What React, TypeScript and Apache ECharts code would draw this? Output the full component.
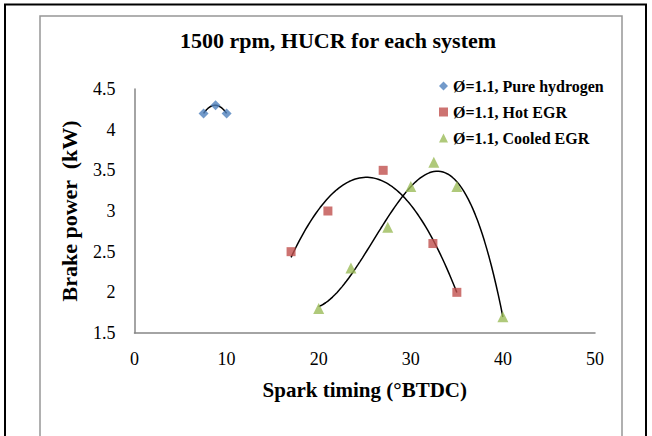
import React, { useEffect, useRef } from "react";
import * as echarts from "echarts";

// Spark timing (°BTDC) and brake power (kW) for each system
const pureX = [7.5, 8.8, 10];
const pureY = [4.2, 4.3, 4.2];
const hotX = [17, 21, 27, 32.4, 35];
const hotY = [2.5, 3.0, 3.5, 2.6, 2.0];
const cooledX = [20, 23.5, 27.5, 30, 32.5, 35, 40];
const cooledY = [1.8, 2.3, 2.8, 3.3, 3.6, 3.3, 1.7];

const seriesNames = ["Ø=1.1, Pure hydrogen", "Ø=1.1, Hot EGR", "Ø=1.1, Cooled EGR"];
const trendOrders = [2, 2, 3];

const FONT = "'Liberation Serif', 'Times New Roman', serif";

// Least-squares polynomial fit, returns coefficients c0..cn
function polyFit(xs: number[], ys: number[], order: number): number[] {
  const n = order + 1;
  const A: number[][] = [];
  for (let i = 0; i < n; i++) {
    const row: number[] = [];
    for (let j = 0; j < n; j++) {
      let s = 0;
      for (const x of xs) s += Math.pow(x, i + j);
      row.push(s);
    }
    let b = 0;
    xs.forEach((x, k) => (b += Math.pow(x, i) * ys[k]));
    row.push(b);
    A.push(row);
  }
  for (let c = 0; c < n; c++) {
    let p = c;
    for (let r = c + 1; r < n; r++) if (Math.abs(A[r][c]) > Math.abs(A[p][c])) p = r;
    [A[c], A[p]] = [A[p], A[c]];
    for (let r = 0; r < n; r++) {
      if (r === c) continue;
      const f = A[r][c] / A[c][c];
      for (let k = c; k <= n; k++) A[r][k] -= f * A[c][k];
    }
  }
  return A.map((row, i) => row[n] / row[i]);
}

// Polynomial trendline sampled across the data's x range
function trendLine(xs: number[], ys: number[], order: number): number[][] {
  const coef = polyFit(xs, ys, order);
  const lo = Math.min(...xs);
  const hi = Math.max(...xs);
  const pts: number[][] = [];
  const steps = 80;
  for (let i = 0; i <= steps; i++) {
    const x = lo + ((hi - lo) * i) / steps;
    let y = 0;
    coef.forEach((c, k) => (y += c * Math.pow(x, k)));
    pts.push([x, y]);
  }
  return pts;
}

const zip = (xs: number[], ys: number[]) => xs.map((x, i) => [x, ys[i]]);

export default function App() {
  const ref = useRef<HTMLDivElement>(null);

  useEffect(() => {
    if (!ref.current) return;
    const chart = echarts.init(ref.current, undefined, { renderer: "svg" });
    const sets = [
      { x: pureX, y: pureY, symbol: "diamond", size: 10, color: "#4f81bd" },
      { x: hotX, y: hotY, symbol: "rect", size: 9, color: "#c0504d" },
      { x: cooledX, y: cooledY, symbol: "triangle", size: 11, color: "#9bbb59" },
    ];
    const scatter = sets.map((s, i) => ({
      name: seriesNames[i],
      type: "scatter",
      symbol: s.symbol,
      symbolSize: s.size,
      itemStyle: { color: s.color },
      data: zip(s.x, s.y),
      z: 3,
    }));
    const trends = sets.map((s, i) => ({
      type: "line",
      data: trendLine(s.x, s.y, trendOrders[i]),
      showSymbol: false,
      symbol: "none",
      lineStyle: { color: "#000", width: 1.5 },
      silent: true,
      z: 2,
    }));

    chart.setOption({
      animation: false,
      textStyle: { fontFamily: FONT },
      title: {
        text: "1500 rpm, HUCR for each system",
        left: 333,
        top: 24,
        textAlign: "center",
        textStyle: { fontFamily: FONT, fontSize: 22, fontWeight: "bold", color: "#000" },
      },
      legend: {
        data: seriesNames,
        orient: "vertical",
        left: 434,
        top: 73,
        itemWidth: 9,
        itemHeight: 9,
        itemGap: 10,
        textStyle: { fontFamily: FONT, fontSize: 16, fontWeight: "bold", color: "#000" },
      },
      grid: { left: 134.5, top: 89, right: 57, bottom: 103 },
      xAxis: {
        type: "value",
        min: 0,
        max: 50,
        interval: 10,
        name: "Spark timing (°BTDC)",
        nameLocation: "middle",
        nameGap: 46,
        nameTextStyle: { fontFamily: FONT, fontSize: 21, fontWeight: "bold", color: "#000" },
        axisLine: { show: true, lineStyle: { color: "#868686", width: 1.5 } },
        axisTick: { show: false },
        splitLine: { show: false },
        axisLabel: { fontFamily: FONT, fontSize: 18, color: "#000", margin: 17 },
      },
      yAxis: {
        type: "value",
        min: 1.5,
        max: 4.5,
        interval: 0.5,
        name: "Brake power  (kW)",
        nameLocation: "middle",
        nameGap: 54,
        nameTextStyle: { fontFamily: FONT, fontSize: 22, fontWeight: "bold", color: "#000" },
        axisLine: { show: true, lineStyle: { color: "#868686", width: 1.5 } },
        axisTick: { show: false },
        splitLine: { show: false },
        axisLabel: { fontFamily: FONT, fontSize: 18, color: "#000", margin: 19 },
      },
      graphic: [
        {
          type: "rect",
          shape: { x: 5, y: 4.5, width: 641, height: 500 },
          style: { fill: "none", stroke: "#000", lineWidth: 2 },
          silent: true,
        },
        {
          type: "rect",
          shape: { x: 40, y: 16, width: 582, height: 500 },
          style: { fill: "none", stroke: "#969696", lineWidth: 1.5 },
          silent: true,
        },
      ],
      series: [...trends, ...scatter],
    });
    return () => chart.dispose();
  }, []);

  return (
    <div
      ref={ref}
      style={{ position: "fixed", left: 0, top: 0, width: 652, height: 436, background: "#fff" }}
    />
  );
}
